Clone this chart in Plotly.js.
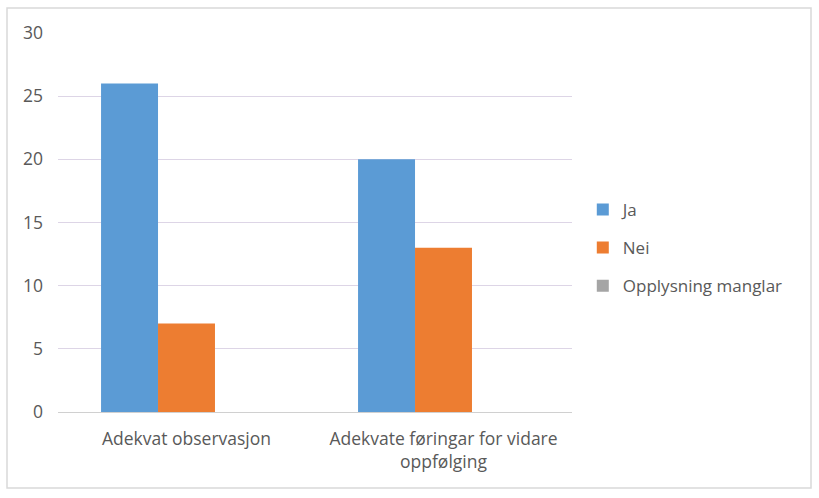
<!DOCTYPE html>
<html><head><meta charset="utf-8">
<script src="https://cdn.plot.ly/plotly-3.0.1.min.js"></script>
<style>html,body{margin:0;padding:0;background:#fff}#c{width:819px;height:498px}</style>
</head><body><div id="c"></div>
<script>
const categories = ["Adekvat observasjon", "Adekvate føringar for vidare<br>oppfølging"];
const seriesNames = ["Ja", "Nei", "Opplysning manglar"];
const ja = [26, 20];
const nei = [7, 13];
const manglar = [0, 0];
const colors = ["#5b9bd5", "#ed7d31", "#a5a5a5"];
const yTicks = [0, 5, 10, 15, 20, 25, 30];

const values = [ja, nei, manglar];
const traces = values.map((v, i) => ({
  type: "bar", name: seriesNames[i], x: categories, y: v,
  marker: {color: colors[i]}, legendgroup: "g" + i
}));

const layout = {
  width: 819, height: 498,
  margin: {l: 58, r: 247, t: 33, b: 86},
  paper_bgcolor: "#ffffff", plot_bgcolor: "#ffffff",
  font: {family: "'Open Sans', sans-serif", color: "#595959", size: 17},
  barmode: "group", bargap: 0.335, bargroupgap: 0,
  xaxis: {showgrid: false, zeroline: false, showline: true, linecolor: "#d0d0d0", linewidth: 1,
          ticks: "", tickfont: {size: 17.5, color: "#595959"}, ticklabelstandoff: 11, automargin: false},
  yaxis: {range: [0, 30], tickvals: yTicks, showgrid: true, gridcolor: "#ddd5e6", gridwidth: 1,
          zeroline: false, showline: false, ticks: "", tickfont: {size: 17.5, color: "#595959"},
          ticklabelstandoff: 14, automargin: false},
  legend: {x: 1.021, y: 0.433, xanchor: "left", yanchor: "middle", traceorder: "grouped",
           tracegroupgap: 13, font: {size: 17, color: "#595959"}, itemwidth: 30},
  showlegend: true,
  shapes: [{type: "rect", xref: "paper", yref: "paper", x0: -0.0992, x1: 1.465, y0: -0.2005, y1: 1.066,
            line: {color: "#d9d9d9", width: 1.5}, fillcolor: "rgba(0,0,0,0)", layer: "below"}]
};
Plotly.newPlot("c", traces, layout, {displayModeBar: false, staticPlot: true});
</script></body></html>
